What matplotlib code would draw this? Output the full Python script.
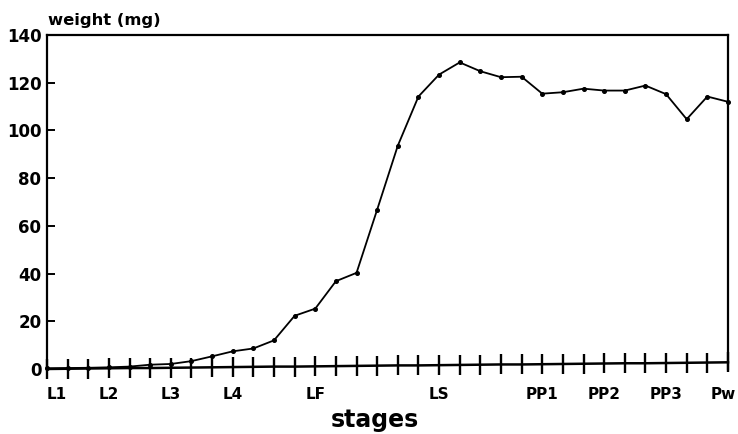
import numpy as np
import matplotlib.pyplot as plt
from matplotlib.transforms import ScaledTranslation

plt.rcParams['font.family'] = ['DejaVu Sans']
plt.rcParams['font.weight'] = 'bold'

# positions of the 34 sampling points along the stage axis
stage_idx = list(range(34))

# fresh weight (mg) read at each sampling point
weight = [0.3, 0.4, 0.5, 0.7, 1.0, 1.8, 2.1, 3.3, 5.3, 7.4, 8.6, 12.0, 22.3, 25.3,
          36.8, 40.3, 66.8, 93.6, 114.2, 123.4, 128.5, 124.8, 122.3, 122.5,
          115.4, 116.0, 117.5, 116.7, 116.7, 118.8, 115.2, 104.7, 114.2, 112.0]

# the ticked base line drifts up slightly towards the right
base_line = [0.0, 0.1, 0.2, 0.3, 0.4, 0.4, 0.5, 0.6, 0.7, 0.8, 0.9, 1.0, 1.0, 1.1,
             1.2, 1.3, 1.4, 1.5, 1.5, 1.6, 1.7, 1.8, 1.9, 1.9, 2.0, 2.1, 2.2, 2.3,
             2.4, 2.4, 2.5, 2.6, 2.7, 2.8]

stage_pos = [0, 3, 6, 9, 13, 19, 24, 27, 30, 33]
stage_names = ['L1', 'L2', 'L3', 'L4', 'LF', 'LS', 'PP1', 'PP2', 'PP3', 'Pw']

fig = plt.figure(figsize=(7.38, 4.34), dpi=100)
ax = fig.add_axes([0.0637, 0.1498, 0.9227, 0.7696])

ax.plot(stage_idx, base_line, color='black', lw=1.8, marker='|', ms=15, mew=1.7,
        clip_on=False, zorder=3)
ax.plot(stage_idx, weight, color='black', lw=1.3, marker='o', ms=2.6,
        clip_on=False, zorder=4)

ax.set_xlim(0, 33)
ax.set_ylim(0, 140)
ax.spines['bottom'].set_visible(False)
for s in ['left', 'top', 'right']:
    ax.spines[s].set_linewidth(1.6)

ax.set_yticks(np.arange(0, 141, 20))
ax.tick_params(axis='y', direction='in', length=6, width=1.4, pad=4, labelsize=12)
ax.set_xticks(stage_pos)
ax.set_xticklabels(stage_names)
ax.tick_params(axis='x', length=0, pad=13, labelsize=11)
for lab in ax.get_xticklabels() + ax.get_yticklabels():
    lab.set_fontweight('bold')

# end labels sit inside the axis span
xl = ax.get_xticklabels()
xl[0].set_ha('left')
xl[-1].set_ha('right')
xl[-1].set_transform(xl[-1].get_transform() + ScaledTranslation(8 / 100, 0, fig.dpi_scale_trans))

ax.set_xlabel('stages', fontsize=17, fontweight='bold')
ax.xaxis.label.set_va('center')
ax.xaxis.set_label_coords(0.482, -0.152)
fig.text(48 / 738, 1 - 25 / 434, 'weight (mg)', fontsize=11.8, fontweight='bold',
         ha='left', va='baseline')

fig.savefig('out.png', dpi=100)
